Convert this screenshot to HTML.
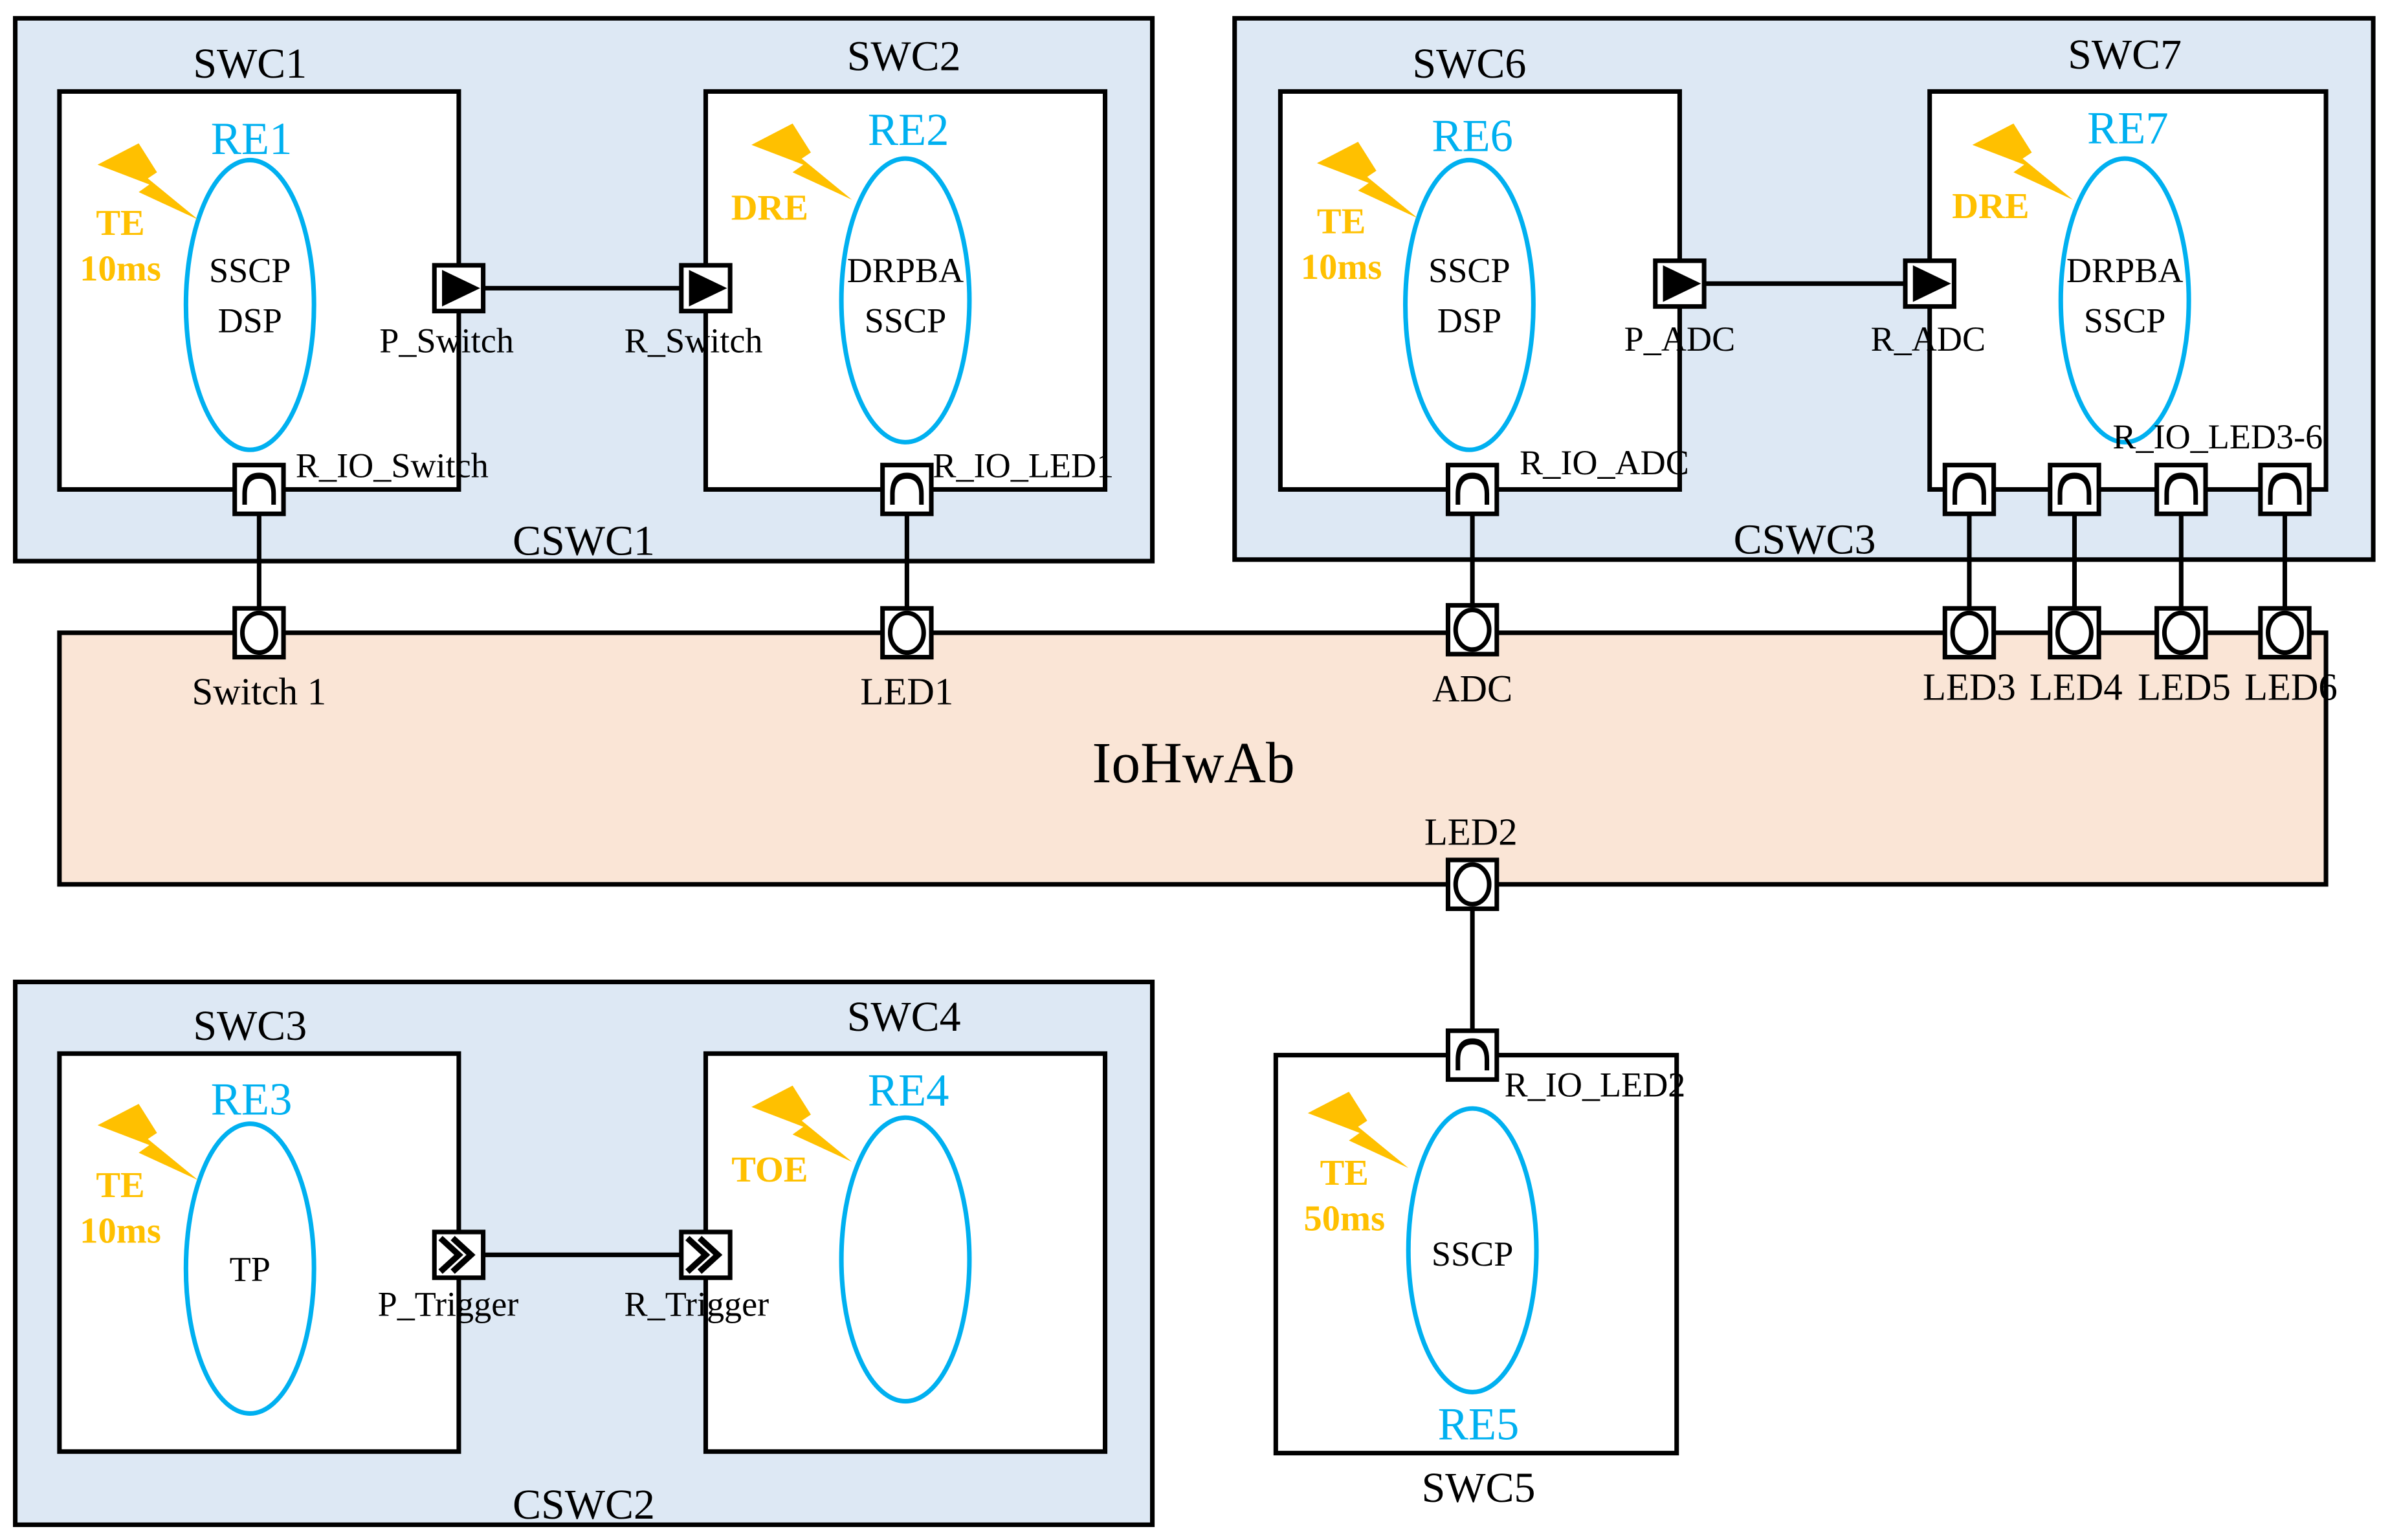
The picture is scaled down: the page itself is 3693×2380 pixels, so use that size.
<!DOCTYPE html>
<html><head><meta charset="utf-8"><style>html,body{margin:0;padding:0;background:#fff}svg{display:block}</style></head><body>
<svg width="3693" height="2380" viewBox="0 0 1568 1010" preserveAspectRatio="none" xmlns="http://www.w3.org/2000/svg" font-family="Liberation Serif, serif">
<defs>
<g id="pR"><rect x="-16" y="-16" width="32" height="32" fill="#fff" stroke="#000" stroke-width="3"/><path d="M-11,10 V3 Q-11,-11 0,-11 Q11,-11 11,3 V10 Z" fill="#000"/><path d="M-8,12 V3 Q-8,-7 0,-7 Q8,-7 8,3 V12 Z" fill="#fff"/></g>
<g id="pO"><rect x="-16" y="-16" width="32" height="32" fill="#fff" stroke="#000" stroke-width="3"/><ellipse cx="0" cy="0" rx="11" ry="13" fill="#fff" stroke="#000" stroke-width="3"/></g>
<g id="pA"><rect x="-16" y="-15" width="32" height="30" fill="#fff" stroke="#000" stroke-width="3"/><path d="M-11,-12 L14,0 L-11,12 Z" fill="#000"/></g>
<g id="pC"><rect x="-16" y="-15" width="32" height="30" fill="#fff" stroke="#000" stroke-width="3"/><path d="M-12,-11 L0,0 L-12,11 M-4,-11 L8,0 L-4,11" fill="none" stroke="#000" stroke-width="4"/></g>
<path id="bolt" d="M0,14 L27,0 L39,19 L33,23 L66,50 L27,32 L34,27 Z" fill="#ffc000"/>
</defs>

<rect x="10" y="12" width="746" height="356" fill="#dde8f4" stroke="#000" stroke-width="3"/>
<rect x="810" y="12" width="747" height="355" fill="#dde8f4" stroke="#000" stroke-width="3"/>
<rect x="10" y="644" width="746" height="356" fill="#dde8f4" stroke="#000" stroke-width="3"/>
<rect x="39" y="415" width="1487" height="165" fill="#fae5d6" stroke="#000" stroke-width="3"/>

<rect x="39" y="60" width="262" height="261" fill="#fff" stroke="#000" stroke-width="3"/>
<rect x="463" y="60" width="262" height="261" fill="#fff" stroke="#000" stroke-width="3"/>
<rect x="840" y="60" width="262" height="261" fill="#fff" stroke="#000" stroke-width="3"/>
<rect x="1266" y="60" width="260" height="261" fill="#fff" stroke="#000" stroke-width="3"/>
<rect x="39" y="691" width="262" height="261" fill="#fff" stroke="#000" stroke-width="3"/>
<rect x="463" y="691" width="262" height="261" fill="#fff" stroke="#000" stroke-width="3"/>
<rect x="837" y="692" width="263" height="261" fill="#fff" stroke="#000" stroke-width="3"/>

<g stroke="#000" stroke-width="3">
<line x1="318" y1="189" x2="447" y2="189"/>
<line x1="1118" y1="186" x2="1250" y2="186"/>
<line x1="318" y1="823" x2="447" y2="823"/>
<line x1="170" y1="337" x2="170" y2="400"/>
<line x1="595" y1="337" x2="595" y2="400"/>
<line x1="966" y1="337" x2="966" y2="398"/>
<line x1="1292" y1="337" x2="1292" y2="400"/>
<line x1="1361" y1="337" x2="1361" y2="400"/>
<line x1="1431" y1="337" x2="1431" y2="400"/>
<line x1="1499" y1="337" x2="1499" y2="400"/>
<line x1="966" y1="596" x2="966" y2="676"/>
</g>

<g fill="none" stroke="#00b0f0" stroke-width="3">
<ellipse cx="164" cy="200" rx="42" ry="95"/>
<ellipse cx="594" cy="197" rx="42" ry="93"/>
<ellipse cx="964" cy="200" rx="42" ry="95"/>
<ellipse cx="1394" cy="197" rx="42" ry="93"/>
<ellipse cx="164" cy="832" rx="42" ry="95"/>
<ellipse cx="594" cy="826" rx="42" ry="93"/>
<ellipse cx="966" cy="820" rx="42" ry="93"/>
</g>

<use href="#bolt" x="64" y="94"/>
<use href="#bolt" x="493" y="81"/>
<use href="#bolt" x="864" y="93"/>
<use href="#bolt" x="1294" y="81"/>
<use href="#bolt" x="64" y="724"/>
<use href="#bolt" x="493" y="712"/>
<use href="#bolt" x="858" y="716"/>

<use href="#pA" x="301" y="189"/>
<use href="#pA" x="463" y="189"/>
<use href="#pA" x="1102" y="186"/>
<use href="#pA" x="1266" y="186"/>
<use href="#pC" x="301" y="823"/>
<use href="#pC" x="463" y="823"/>
<use href="#pR" x="170" y="321"/>
<use href="#pR" x="595" y="321"/>
<use href="#pR" x="966" y="321"/>
<use href="#pR" x="1292" y="321"/>
<use href="#pR" x="1361" y="321"/>
<use href="#pR" x="1431" y="321"/>
<use href="#pR" x="1499" y="321"/>
<use href="#pR" x="966" y="692"/>
<use href="#pO" x="170" y="415"/>
<use href="#pO" x="595" y="415"/>
<use href="#pO" x="966" y="413"/>
<use href="#pO" x="1292" y="415"/>
<use href="#pO" x="1361" y="415"/>
<use href="#pO" x="1431" y="415"/>
<use href="#pO" x="1499" y="415"/>
<use href="#pO" x="966" y="580"/>

<g fill="#000" text-anchor="middle" font-size="28">
<text x="164" y="51">SWC1</text>
<text x="593" y="46">SWC2</text>
<text x="964" y="51">SWC6</text>
<text x="1394" y="45">SWC7</text>
<text x="164" y="682">SWC3</text>
<text x="593" y="676">SWC4</text>
<text x="970" y="985">SWC5</text>
<text x="383" y="364">CSWC1</text>
<text x="1184" y="363">CSWC3</text>
<text x="383" y="996">CSWC2</text>
<text x="783" y="513" font-size="38">IoHwAb</text>
</g>
<g fill="#000" text-anchor="middle" font-size="23">
<text x="164" y="185">SSCP</text><text x="164" y="218">DSP</text>
<text x="594" y="185">DRPBA</text><text x="594" y="218">SSCP</text>
<text x="964" y="185">SSCP</text><text x="964" y="218">DSP</text>
<text x="1394" y="185">DRPBA</text><text x="1394" y="218">SSCP</text>
<text x="164" y="840">TP</text>
<text x="966" y="830">SSCP</text>
<text x="293" y="231">P_Switch</text>
<text x="455" y="231">R_Switch</text>
<text x="1102" y="230">P_ADC</text>
<text x="1265" y="230">R_ADC</text>
<text x="294" y="863">P_Trigger</text>
<text x="457" y="863">R_Trigger</text>
<text x="170" y="462" font-size="25">Switch 1</text>
<text x="595" y="462" font-size="25">LED1</text>
<text x="966" y="460" font-size="25">ADC</text>
<text x="1292" y="459" font-size="25">LED3</text>
<text x="1362" y="459" font-size="25">LED4</text>
<text x="1433" y="459" font-size="25">LED5</text>
<text x="1503" y="459" font-size="25">LED6</text>
<text x="965" y="554" font-size="25">LED2</text>
</g>
<g fill="#000" font-size="23">
<text x="194" y="313">R_IO_Switch</text>
<text x="612" y="313">R_IO_LED1</text>
<text x="997" y="311">R_IO_ADC</text>
<text x="1386" y="294">R_IO_LED3-6</text>
<text x="987" y="719">R_IO_LED2</text>
</g>

<g fill="#00b0f0" text-anchor="middle" font-size="30">
<text x="165" y="101">RE1</text>
<text x="596" y="95">RE2</text>
<text x="966" y="99">RE6</text>
<text x="1396" y="94">RE7</text>
<text x="165" y="731">RE3</text>
<text x="596" y="725">RE4</text>
<text x="970" y="944">RE5</text>
</g>
<g fill="#ffc000" text-anchor="middle" font-size="24" font-weight="bold">
<text x="79" y="154">TE</text><text x="79" y="184">10ms</text>
<text x="505" y="144">DRE</text>
<text x="880" y="153">TE</text><text x="880" y="183">10ms</text>
<text x="1306" y="143">DRE</text>
<text x="79" y="785">TE</text><text x="79" y="815">10ms</text>
<text x="505" y="775">TOE</text>
<text x="882" y="777">TE</text><text x="882" y="807">50ms</text>
</g>
</svg>
</body></html>
